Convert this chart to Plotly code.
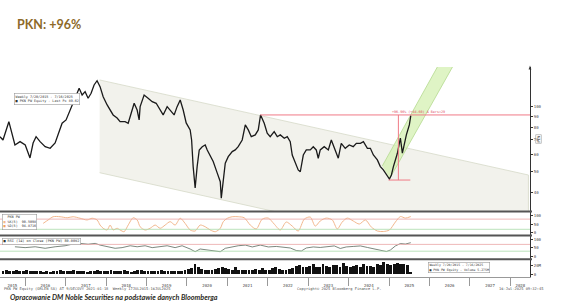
import numpy as np
import pandas as pd
import plotly.graph_objects as go

W, H = 564, 304
AX_X = 530  # right edge of plotting area (px)


def px(x):
    return x / W


def py(y):
    return 1 - y / H


# ---------------- data ----------------
price_dates = [
    "2015-05-19", "2015-06-15", "2015-08-07", "2015-09-05", "2015-10-01", "2015-11-16",
    "2016-01-02", "2016-02-14", "2016-03-13", "2016-04-09", "2016-05-15", "2016-06-30", "2016-08-14",
    "2016-09-28", "2016-10-25", "2016-11-30",
    "2017-01-05", "2017-02-11", "2017-03-10", "2017-04-06", "2017-05-03", "2017-05-30", "2017-06-26",
    "2017-07-23", "2017-08-19", "2017-09-15", "2017-10-12", "2017-11-08", "2017-12-06",
    "2018-01-11", "2018-02-07", "2018-03-06", "2018-04-11", "2018-05-08", "2018-06-22", "2018-07-20",
    "2018-08-16", "2018-09-12", "2018-10-09", "2018-10-27", "2018-11-05", "2018-12-11",
    "2019-01-16", "2019-02-22", "2019-03-30", "2019-05-05", "2019-06-01", "2019-07-07", "2019-08-03",
    "2019-09-08", "2019-10-05", "2019-11-02", "2019-11-29", "2019-12-26",
    "2020-01-31", "2020-02-13", "2020-02-27", "2020-03-16", "2020-04-03", "2020-04-22", "2020-05-19",
    "2020-06-15", "2020-07-03", "2020-07-30", "2020-08-26", "2020-10-01", "2020-10-29", "2020-11-07",
    "2020-11-25", "2020-12-13",
    "2021-01-09", "2021-02-14", "2021-03-13", "2021-04-09", "2021-05-15", "2021-06-12", "2021-07-09",
    "2021-08-05", "2021-09-10", "2021-10-07", "2021-10-28", "2021-11-30", "2021-12-27",
    "2022-01-23", "2022-02-28", "2022-03-28", "2022-04-24", "2022-05-30", "2022-06-26", "2022-07-23",
    "2022-08-10", "2022-09-06", "2022-10-03", "2022-10-22", "2022-11-18", "2022-12-15",
    "2023-01-20", "2023-02-16", "2023-03-15", "2023-04-02", "2023-04-20", "2023-05-26", "2023-07-02",
    "2023-07-29", "2023-09-03", "2023-09-30", "2023-10-27", "2023-12-02",
    "2024-01-07", "2024-02-12", "2024-03-11", "2024-04-17", "2024-05-14", "2024-06-19", "2024-07-16",
    "2024-08-12", "2024-09-17", "2024-10-14", "2024-11-10", "2024-12-08",
    "2025-01-04", "2025-01-22", "2025-02-09", "2025-03-17", "2025-04-13", "2025-05-01", "2025-05-19",
    "2025-06-06", "2025-07-03", "2025-07-16",
]
price_values = [
    72.4, 69.9, 84.9, 73.8, 66.3, 68.7,
    66.3, 57.8, 67.7, 72.4, 68.7, 65.1, 64.0, 67.7, 73.8, 83.5,
    86.5, 96.1, 105.0, 112.7, 121.0, 112.7, 116.8, 108.9, 114.8, 125.4, 131.2, 123.1, 110.7,
    101.4, 96.1, 91.2, 88.3, 84.9, 84.9, 83.5, 92.8, 103.2, 96.1, 86.5, 99.6, 112.7,
    108.9, 105.0, 103.2, 96.1, 91.2, 99.6, 96.1, 91.2, 99.6, 106.9, 96.1, 83.8,
    77.8, 69.9, 52.7, 42.0, 52.7, 62.9, 65.1, 66.3, 62.9, 59.6, 55.6, 49.3, 44.9, 37.7, 44.3, 54.6,
    58.6, 61.8, 62.9, 65.1, 69.9, 82.0, 77.8, 72.4, 73.8, 77.8, 91.2, 83.5, 75.1,
    72.4, 76.4, 72.4, 73.8, 71.2, 72.4, 68.7, 59.6, 55.6, 50.9, 49.9, 59.6, 62.9,
    62.9, 65.1, 62.9, 57.6, 62.9, 65.1, 62.9, 69.9, 62.9, 57.6, 67.5, 64.0,
    66.3, 65.1, 67.5, 67.5, 68.7, 64.0, 64.0, 59.6, 56.6, 52.7, 50.9, 48.2,
    46.2, 48.2, 52.7, 60.7, 71.4, 60.8, 67.7, 73.8, 82.0, 90.5,
]

# descending channel (parallelogram) and rising green band
channel_dates = ["2017-11-04", "2028-06-13", "2028-06-13", "2017-11-04"]
channel_values = [132.2, 48.2, 18.0, 49.4]
band_dates = ["2024-11-01", "2026-04-17", "2026-09-01", "2025-01-04"]
band_values = [53.1, 163.3, 163.3, 46.2]

# red measurement (low -> high)
meas_high = 91.2
meas_low = 45.7
meas_h_dates = ["2021-10-25", "2028-06-27"]
meas_v_date = "2025-03-26"
meas_b_dates = ["2024-12-27", "2025-07-12"]

price_ticks = [40, 50, 60, 70, 80, 90, 100]

stoch_dates = [
    "2016-06-12", "2016-07-27", "2016-09-10", "2016-11-12", "2017-01-15", "2017-03-10", "2017-05-12",
    "2017-07-14", "2017-08-28", "2017-10-12", "2017-11-08", "2017-12-06", "2018-01-11", "2018-02-07",
    "2018-03-06", "2018-04-11", "2018-05-08", "2018-06-13", "2018-07-20", "2018-09-03", "2018-10-09",
    "2018-11-05", "2018-12-20", "2019-02-03", "2019-03-21", "2019-05-05", "2019-06-19", "2019-08-03",
    "2019-09-17", "2019-11-02", "2019-12-16", "2020-01-31", "2020-03-16", "2020-04-30", "2020-06-15",
    "2020-07-30", "2020-09-14", "2020-10-29", "2020-11-25", "2021-01-01", "2021-02-14", "2021-04-09",
    "2021-06-02", "2021-07-27", "2021-09-19", "2021-11-12", "2022-01-06", "2022-02-28", "2022-04-24",
    "2022-06-17", "2022-08-10", "2022-10-03", "2022-11-27", "2023-01-20", "2023-03-06", "2023-04-20",
    "2023-06-13", "2023-08-07", "2023-09-21", "2023-11-05", "2023-12-20", "2024-02-12", "2024-04-07",
    "2024-06-01", "2024-07-25", "2024-09-17", "2024-11-10", "2025-01-04", "2025-02-27", "2025-04-13",
    "2025-05-28", "2025-07-16",
]
stoch_values = [
    55, 75, 94, 94, 88, 94, 85,
    75, 85, 75, 45, 26, 16, 45,
    16, 26, 16, 6, 45, 88, 75,
    35, 16, 26, 45, 26, 45, 65,
    45, 85, 55, 16, 10, 45, 35,
    16, 6, 26, 65, 85, 94, 94,
    88, 45, 22, 80, 86, 51, 16,
    63, 39, 10, 80, 92, 39, 69,
    86, 75, 22, 63, 86, 69, 51,
    75, 33, 10, 7, 16, 63, 95,
    86, 95,
]
stoch_levels = [80, 20]

rsi_dates = [
    "2015-10-01", "2016-01-01", "2016-04-01", "2016-06-30", "2016-09-28", "2016-12-27", "2017-02-28",
    "2017-05-12", "2017-07-23", "2017-09-25", "2017-11-08", "2018-01-11", "2018-03-24", "2018-05-26",
    "2018-08-07", "2018-10-09", "2018-12-20", "2019-02-22", "2019-05-05", "2019-07-07", "2019-09-17",
    "2019-11-19", "2020-01-31", "2020-03-16", "2020-04-30", "2020-07-03", "2020-09-14", "2020-10-29",
    "2020-12-13", "2021-02-14", "2021-04-09", "2021-06-12", "2021-08-14", "2021-10-25", "2022-01-06",
    "2022-03-19", "2022-05-30", "2022-07-23", "2022-09-15", "2022-10-31", "2022-12-15", "2023-02-16",
    "2023-04-20", "2023-07-02", "2023-08-25", "2023-10-18", "2023-12-11", "2024-02-12", "2024-04-17",
    "2024-06-19", "2024-08-21", "2024-10-14", "2024-12-08", "2025-01-13", "2025-02-27", "2025-04-13",
    "2025-05-28", "2025-07-16",
]
rsi_values = [
    56, 51, 56, 47, 56, 62, 71,
    76, 71, 76, 66, 56, 47, 51,
    62, 56, 62, 51, 56, 62, 51,
    62, 43, 27, 43, 37, 31, 27,
    47, 56, 62, 66, 55, 66, 55,
    58, 55, 49, 34, 31, 49, 55,
    52, 55, 61, 46, 55, 58, 61,
    52, 43, 37, 28, 37, 61, 75,
    72, 80,
]
rsi_levels = [70, 30]

# monthly volume, millions of shares (Jun 2015 - Jul 2025)
vol_values_m = [
    8, 9, 7, 8, 10, 7, 8,
    9, 8, 7, 7, 8, 6, 7, 6, 7, 8, 9, 8,
    8, 7, 9, 8, 7, 8, 6, 7, 8, 9, 8, 7,
    8, 9, 8, 7, 8, 10, 7, 6, 7, 9, 10, 8,
    7, 7, 8, 7, 9, 7, 8, 7, 8, 7, 8, 10,
    12, 14, 25, 16, 12, 10, 10, 9, 12, 14, 18, 15,
    12, 10, 16, 11, 10, 9, 10, 11, 12, 11, 14, 10,
    11, 15, 16, 13, 10, 11, 13, 15, 19, 21, 17, 16,
    19, 24, 18, 17, 25, 19, 16, 21, 22, 18, 26, 20,
    17, 19, 22, 18, 25, 20, 19, 18, 24, 22, 28, 23,
    21, 25, 27, 23, 24, 22, 5.3,
]
vol_dates = pd.date_range("2015-06-01", periods=len(vol_values_m), freq="MS") + pd.Timedelta(days=14)
vol_values = [v * 1e6 for v in vol_values_m]

year_labels = [str(y) for y in range(2015, 2029)]
year_label_pos = ["2015-09-08"] + [f"{y}-07-02" for y in range(2016, 2028)] + ["2028-04-01"]
year_starts = [f"{y}-01-01" for y in range(2016, 2029)]
x_range = ["2015-05-19", "2028-06-27"]

# ---------------- figure ----------------
fig = go.Figure()

fig.add_trace(go.Scatter(x=channel_dates, y=channel_values, xaxis="x", yaxis="y", mode="lines",
                         fill="toself", fillcolor="#f2f2ec", line=dict(color="#d6d9c8", width=0.8),
                         hoverinfo="skip"))
fig.add_trace(go.Scatter(x=band_dates, y=band_values, xaxis="x", yaxis="y", mode="lines",
                         fill="toself", fillcolor="rgba(212,240,178,0.75)",
                         line=dict(color="#b4d98e", width=0.8), hoverinfo="skip"))
fig.add_trace(go.Scatter(x=price_dates, y=price_values, xaxis="x", yaxis="y", mode="lines",
                         line=dict(color="#1a1a1a", width=1.3)))
red = "#f07a86"
fig.add_trace(go.Scatter(x=meas_h_dates, y=[meas_high, meas_high], xaxis="x", yaxis="y", mode="lines",
                         line=dict(color=red, width=1)))
fig.add_trace(go.Scatter(x=[meas_v_date, meas_v_date], y=[meas_high, meas_low], xaxis="x", yaxis="y",
                         mode="lines", line=dict(color=red, width=1)))
fig.add_trace(go.Scatter(x=meas_b_dates, y=[meas_low, meas_low], xaxis="x", yaxis="y", mode="lines",
                         line=dict(color=red, width=1)))

fig.add_trace(go.Scatter(x=stoch_dates, y=stoch_values, xaxis="x", yaxis="y2", mode="lines",
                         line=dict(color="#f3b88e", width=1, shape="spline", smoothing=0.8)))
fig.add_trace(go.Scatter(x=rsi_dates, y=rsi_values, xaxis="x", yaxis="y3", mode="lines",
                         line=dict(color="#5a6a5e", width=0.8)))
fig.add_trace(go.Bar(x=vol_dates, y=vol_values, xaxis="x", yaxis="y4", marker_color="#111",
                     marker_line_width=0, width=26 * 86400000))

tickfont = dict(family="DejaVu Sans Mono", size=4, color="#444")
common_y = dict(side="right", anchor="x", showline=True, linecolor="#333", linewidth=1,
                ticks="outside", ticklen=2, tickcolor="#333", tickfont=tickfont,
                showgrid=False, zeroline=False, fixedrange=True)

fig.update_layout(
    width=W, height=H, margin=dict(l=0, r=0, t=0, b=0),
    paper_bgcolor="white", plot_bgcolor="white", showlegend=False, bargap=0,
    xaxis=dict(domain=[0, AX_X / W], anchor="y4", type="date", range=x_range,
               tickmode="array", tickvals=year_label_pos, ticktext=year_labels,
               ticks="outside", ticklen=4, tickcolor="rgba(0,0,0,0)",
               minor=dict(tickmode="array", tickvals=year_starts, ticks="outside", ticklen=8,
                          tickcolor="#999", tickwidth=0.8),
               showline=True, linecolor="#999", linewidth=1, showgrid=False,
               tickfont=tickfont, fixedrange=True),
    yaxis=dict(domain=[py(211), py(67)], type="log",
               range=[np.log10(32.9), np.log10(151.7)], tickmode="array", tickvals=price_ticks,
               **common_y),
    yaxis2=dict(domain=[py(235), py(212)], range=[-13.5, 121.8], tickmode="array",
                tickvals=[0, 50, 100], **common_y),
    yaxis3=dict(domain=[py(259), py(236)], range=[-15.9, 119.4], tickmode="array",
                tickvals=[0, 50, 100], **common_y),
    yaxis4=dict(domain=[py(277), py(260)], range=[-6.3e6, 33.3e6], tickmode="array",
                tickvals=[0, 20e6], ticktext=["0", "20M"], **common_y),
)

shapes = []
for yy in (211.6, 235.6, 259.3):
    shapes.append(dict(type="line", xref="paper", yref="paper", x0=0, x1=px(532),
                       y0=py(yy), y1=py(yy), line=dict(color="#555", width=2)))
for lv, col in zip(stoch_levels, ("#eaa6a6", "#a9dba9")):
    shapes.append(dict(type="line", xref="paper", yref="y2", x0=0, x1=px(AX_X), y0=lv, y1=lv,
                       line=dict(color=col, width=0.8)))
for lv, col in zip(rsi_levels, ("#eaa6a6", "#a9dba9")):
    shapes.append(dict(type="line", xref="paper", yref="y3", x0=0, x1=px(AX_X), y0=lv, y1=lv,
                       line=dict(color=col, width=0.8)))
# arrow tip at top of price axis
shapes.append(dict(type="path", xref="paper", yref="paper",
                   path=f"M {px(528.6)} {py(69.5)} L {px(530)} {py(65.5)} L {px(531.4)} {py(69.5)} Z",
                   fillcolor="#333", line=dict(width=0)))
fig.update_layout(shapes=shapes)

mono = "DejaVu Sans Mono"
ann = []
ann.append(dict(text="<b>PKN: +96%</b>", x=px(15), y=py(24), xref="paper", yref="paper",
                xanchor="left", yanchor="middle", showarrow=False,
                font=dict(family="Lato", size=12.5, color="#8d6a2a")))
ann.append(dict(text="Weekly 7/20/2015 - 7/16/2025<br>■ PKN PW Equity - Last Px 89.62",
                x=px(14), y=py(93), xref="paper", yref="paper", xanchor="left", yanchor="top",
                showarrow=False, align="left", bgcolor="white", bordercolor="#999", borderwidth=0.6,
                borderpad=1, font=dict(family=mono, size=3.4, color="#333")))
ann.append(dict(text="+96.96% (+44.60) Δ Bars=29", x="2025-01-13", y=np.log10(94.2), xref="x",
                yref="y", xanchor="left", yanchor="middle", showarrow=False,
                font=dict(family=mono, size=3.4, color="#e0505f")))
ann.append(dict(text="PLN", x=px(538.5), y=py(139), xref="paper", yref="paper", xanchor="center",
                yanchor="middle", showarrow=False, textangle=-90, bordercolor="#999", borderwidth=0.6,
                borderpad=0.5, font=dict(family=mono, size=3.6, color="#444")))
ann.append(dict(text="  PKN PW<br><span style='color:#f3b88e'>■</span> %K(5)  90.5098<br>"
                     "<span style='color:#f0a060'>■</span> %D(5)  94.8716",
                x=px(2), y=py(213.5), xref="paper", yref="paper", xanchor="left", yanchor="top",
                showarrow=False, align="left", bgcolor="white", bordercolor="#999", borderwidth=0.6,
                borderpad=0.8, font=dict(family=mono, size=3.4, color="#333")))
ann.append(dict(text="■ RSI (14) on Close (PKN PW) 80.0092",
                x=px(2), y=py(237.8), xref="paper", yref="paper", xanchor="left", yanchor="top",
                showarrow=False, align="left", bgcolor="white", bordercolor="#999", borderwidth=0.6,
                borderpad=0.8, font=dict(family=mono, size=3.5, color="#333")))
ann.append(dict(text="Weekly 7/20/2015 - 7/16/2025<br>■ PKN PW Equity - Volume 5.275M",
                x=px(490), y=py(262), xref="paper", yref="paper", xanchor="right", yanchor="top",
                showarrow=False, align="left", bgcolor="white", bordercolor="#999", borderwidth=0.6,
                borderpad=0.8, font=dict(family=mono, size=3.2, color="#333")))
foot = dict(family=mono, size=3.7, color="#555")
ann.append(dict(text="PKN PW Equity (ORLEN SA) AT 9/DECOVY 2021-01-18  Weekly 17JUL2015-16JUL2025",
                x=px(2), y=py(289), xref="paper", yref="paper", xanchor="left", yanchor="middle",
                showarrow=False, font=foot))
ann.append(dict(text="Copyright© 2025 Bloomberg Finance L.P.", x=px(295), y=py(289), xref="paper",
                yref="paper", xanchor="left", yanchor="middle", showarrow=False, font=foot))
ann.append(dict(text="16-Jul-2025 09:32:45", x=px(545), y=py(289), xref="paper", yref="paper",
                xanchor="right", yanchor="middle", showarrow=False, font=foot))
ann.append(dict(text="<b><i>Opracowanie DM Noble Securities na podstawie danych Bloomberga</i></b>",
                x=px(8), y=py(297.8), xref="paper", yref="paper", xanchor="left", yanchor="middle",
                showarrow=False, font=dict(family="Lato", size=7.2, color="#2c2a1c")))
fig.update_layout(annotations=ann)

fig.write_html("out.html", config={"displayModeBar": False})
